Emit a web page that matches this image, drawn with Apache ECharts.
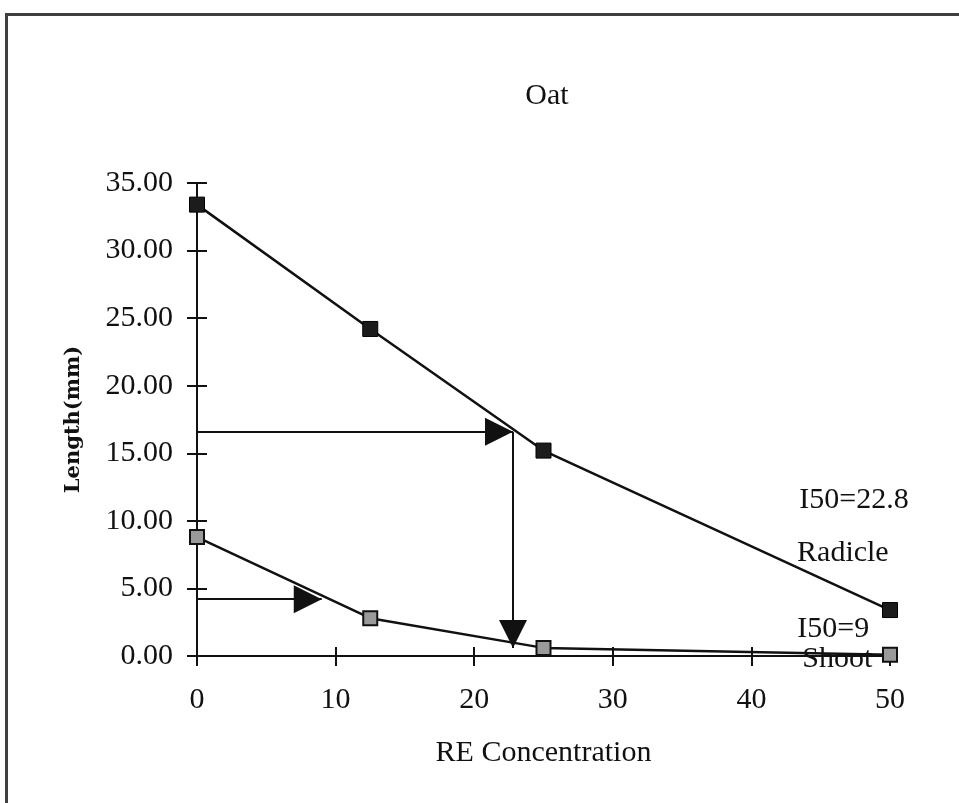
<!DOCTYPE html>
<html>
<head>
<meta charset="utf-8">
<script src="https://cdn.jsdelivr.net/npm/echarts@6/dist/echarts.min.js"></script>
<style>
html,body{margin:0;padding:0;background:#fff;}
#chart{width:959px;height:803px;}
</style>
</head>
<body>
<div id="chart"></div>
<script>
// ---- data ----
var concentrations = [0, 12.5, 25, 50];
var radicleLength = [33.4, 24.2, 15.2, 3.4];
var shootLength = [8.8, 2.8, 0.6, 0.1];
var xTicks = [0, 10, 20, 30, 40, 50];
var yTicks = [0, 5, 10, 15, 20, 25, 30, 35];
// I50 arrows: [fromX, fromY, toX, toY]
var radicleArrowH = [0, 16.6, 22.8, 16.6];
var radicleArrowV = [22.8, 16.6, 22.8, 0.6];
var shootArrowH = [0, 4.2, 9, 4.2];
var shootArrowV = [9, 4.2, 9, -0.4];
// annotations: [x, y, text]
var annotations = [
  [47.4, 11.5, 'I50=22.8'],
  [46.6, 7.6, 'Radicle'],
  [45.9, 2.0, 'I50=9'],
  [46.2, -0.2, 'Shoot']
];

var SERIF = '"Liberation Serif", "Times New Roman", serif';

function pairs(xs, ys) { return xs.map(function (x, i) { return [x, ys[i]]; }); }
function arrowLine(a) { return [{ coord: [a[0], a[1]] }, { coord: [a[2], a[3]] }]; }

var chart = echarts.init(document.getElementById('chart'));
var option = {
  animation: false,
  backgroundColor: '#fff',
  title: {
    text: 'Oat',
    left: 542,
    top: 76,
    textAlign: 'center',
    textStyle: { fontFamily: SERIF, fontSize: 30, fontWeight: 'normal', color: '#111' }
  },
  graphic: [
    { type: 'line', shape: { x1: 6, y1: 14.5, x2: 959, y2: 14.5 }, style: { stroke: '#404040', lineWidth: 3 } },
    { type: 'line', shape: { x1: 6.5, y1: 13, x2: 6.5, y2: 803 }, style: { stroke: '#404040', lineWidth: 3 } }
  ],
  grid: { left: 197, right: 69, top: 183, bottom: 147 },
  xAxis: [{
    type: 'value', min: 0, max: 50, interval: 10,
    name: 'RE Concentration', nameLocation: 'middle', nameGap: 82, nameMoveOverlap: false,
    nameTextStyle: { fontFamily: SERIF, fontSize: 30, color: '#111' },
    axisLine: { lineStyle: { color: '#111', width: 2 } },
    axisTick: { show: true, length: 10, lineStyle: { color: '#111', width: 2 } },
    axisLabel: { margin: 29, fontFamily: SERIF, fontSize: 30, color: '#111' },
    splitLine: { show: false }
  }, {
    type: 'value', min: 0, max: 50, interval: 10, position: 'bottom',
    axisLine: { show: false },
    axisTick: { show: true, inside: true, length: 9, lineStyle: { color: '#111', width: 2 } },
    axisLabel: { show: false },
    splitLine: { show: false }
  }],
  yAxis: [{
    type: 'value', min: 0, max: 35, interval: 5,
    name: 'Length(mm)', nameLocation: 'middle', nameGap: 113, nameMoveOverlap: false,
    nameTextStyle: { fontFamily: '"DejaVu Serif", serif', fontSize: 21, fontWeight: 'bold', color: '#111' },
    axisLine: { show: true, lineStyle: { color: '#111', width: 2 } },
    axisTick: { show: true, length: 10, lineStyle: { color: '#111', width: 2 } },
    axisLabel: {
      margin: 24, fontFamily: SERIF, fontSize: 30, color: '#111',
      formatter: function (v) { return v.toFixed(2); }
    },
    splitLine: { show: false }
  }, {
    type: 'value', min: 0, max: 35, interval: 5, position: 'left',
    axisLine: { show: false },
    axisTick: { show: true, inside: true, length: 10, lineStyle: { color: '#111', width: 2 } },
    axisLabel: { show: false },
    splitLine: { show: false }
  }],
  series: [{
    name: 'Radicle', type: 'line', data: pairs(concentrations, radicleLength),
    symbol: 'rect', symbolSize: 15,
    lineStyle: { color: '#111', width: 2.5 },
    itemStyle: { color: '#1c1c1c', borderColor: '#000', borderWidth: 1 },
    z: 3
  }, {
    name: 'Shoot', type: 'line', data: pairs(concentrations, shootLength),
    symbol: 'rect', symbolSize: 14,
    lineStyle: { color: '#111', width: 2.5 },
    itemStyle: { color: '#9a9a9a', borderColor: '#111', borderWidth: 2 },
    z: 3
  }, {
    name: 'I50', type: 'line', data: [], clip: false,
    markLine: {
      silent: true,
      symbol: ['none', 'triangle'],
      symbolSize: [28, 28],
      symbolOffset: [[0, 0], [0, 14]],
      label: { show: false },
      lineStyle: { color: '#111', width: 2, type: 'solid' },
      itemStyle: { color: '#111' },
      emphasis: { disabled: true },
      data: [arrowLine(radicleArrowH), arrowLine(radicleArrowV), arrowLine(shootArrowH), arrowLine(shootArrowV)]
    },
    z: 4
  }, {
    name: 'labels', type: 'scatter', clip: false, symbolSize: 0,
    itemStyle: { color: '#111', opacity: 1 },
    data: annotations.map(function (a) { return { value: [a[0], a[1]], name: a[2] }; }),
    label: {
      show: true, position: 'inside', formatter: '{b}',
      fontFamily: SERIF, fontSize: 30, color: '#111', opacity: 1
    },
    emphasis: { disabled: true },
    z: 5
  }]
};
chart.setOption(option);
</script>
</body>
</html>
